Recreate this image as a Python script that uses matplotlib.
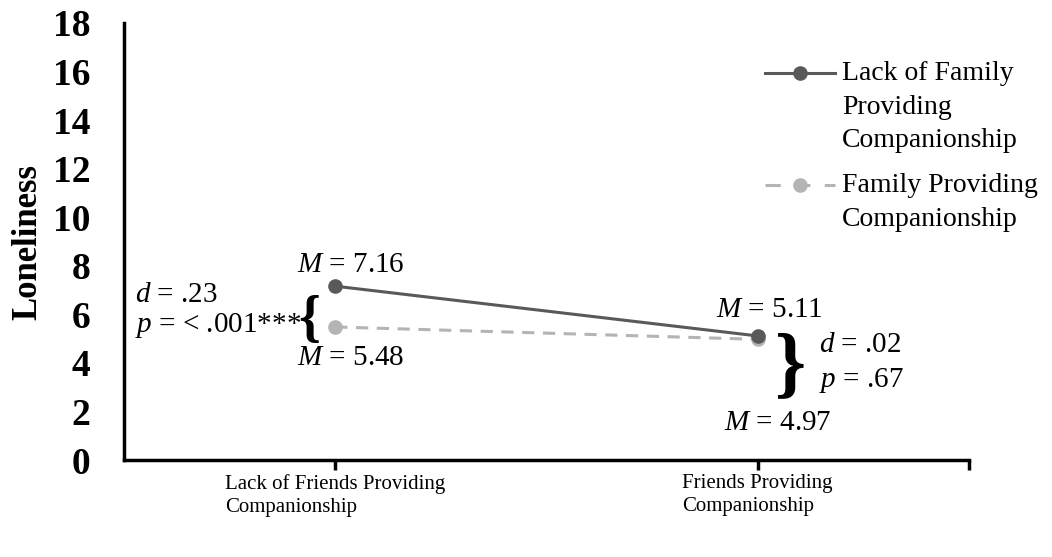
import matplotlib
matplotlib.use("Agg")
import matplotlib.pyplot as plt

plt.rcParams['font.family'] = 'Liberation Serif'
plt.rcParams['mathtext.fontset'] = 'custom'
plt.rcParams['mathtext.rm'] = 'Liberation Serif'
plt.rcParams['mathtext.it'] = 'Liberation Serif:italic'

# data
categories = ["Lack of Friends Providing\nCompanionship", "Friends Providing\nCompanionship"]
lack_family = [7.16, 5.11]
family = [5.48, 4.97]
series_names = ["Lack of Family\nProviding\nCompanionship", "Family Providing\nCompanionship"]
y_ticks = list(range(0, 19, 2))
d_vals = [".23", ".02"]
p_vals = ["< .001***", ".67"]

dark = '#595959'
light = '#b4b4b4'
dash = (0, (4, 2.8))

fig = plt.figure(figsize=(10.52, 5.57), dpi=100)
ax = fig.add_axes([124 / 1052, 1 - 460 / 557, (969 - 124) / 1052, (460 - 23) / 557])

x = [0, 1]
ax.plot(x, lack_family, color=dark, lw=2.2, marker='o', ms=9.5, zorder=3)
ax.plot(x, family, color=light, lw=2.2, ls=dash, marker='o', ms=9.5, zorder=2)

ax.set_xlim(-0.5, 1.5)
ax.set_ylim(0, 18)
ax.set_yticks(y_ticks)
ax.set_yticklabels([str(v) for v in y_ticks], fontsize=27, fontweight='bold')
ax.tick_params(axis='y', length=0, pad=24)
ax.set_xticks([0, 1, 1.5])
ax.set_xticklabels(categories + [""], fontsize=15)
for lbl in ax.get_xticklabels():
    lbl.set_multialignment('left')
    lbl.set_linespacing(1.3)
ax.tick_params(axis='x', length=7, width=2.5, direction='out', pad=3)
ax.set_ylabel("Loneliness", fontsize=25, fontweight='bold', labelpad=6)

for s in ['top', 'right']:
    ax.spines[s].set_visible(False)
for s in ['left', 'bottom']:
    ax.spines[s].set_linewidth(2.5)

fs = 21
# left group
ax.text(-0.09, 7.74, r"$M$ = " + f"{lack_family[0]:.2f}", fontsize=fs, va='baseline')
ax.text(-0.09, 3.91, r"$M$ = " + f"{family[0]:.2f}", fontsize=fs, va='baseline')
ax.text(-0.474, 6.5, r"$d$ = " + d_vals[0], fontsize=fs, va='baseline')
ax.text(-0.474, 5.27, r"$p$ = " + p_vals[0], fontsize=fs, va='baseline')
ax.text(-0.062, 5.72, "{", fontsize=40, fontweight='bold', va='center', ha='center')

# right group
ax.text(0.90, 5.89, r"$M$ = " + f"{lack_family[1]:.2f}", fontsize=fs, va='baseline')
ax.text(0.919, 1.24, r"$M$ = " + f"{family[1]:.2f}", fontsize=fs, va='baseline')
ax.text(1.145, 4.45, r"$d$ = " + d_vals[1], fontsize=fs, va='baseline')
ax.text(1.145, 3.0, r"$p$ = " + p_vals[1], fontsize=fs, va='baseline')
ax.text(1.077, 3.79, "}", fontsize=57, fontweight='bold', va='center', ha='center')

# legend (handle lined up with first line of each label, as in the original)
leg_y = [0.8856, 0.6293]
leg_ls = ['-', (0, (5, 4.7))]
for name, col, ls, yy in zip(series_names, [dark, light], leg_ls, leg_y):
    ax.plot([0.7586, 0.8414], [yy, yy], color=col, lw=2.2, ls=ls, transform=ax.transAxes, clip_on=False)
    ax.plot([0.8000], [yy], color=col, marker='o', ms=9.5, transform=ax.transAxes, clip_on=False)
    ax.text(0.8497, yy + 0.027, name, fontsize=20, va='top', ha='left', linespacing=1.45,
            transform=ax.transAxes)

fig.savefig("out.png", dpi=100)
